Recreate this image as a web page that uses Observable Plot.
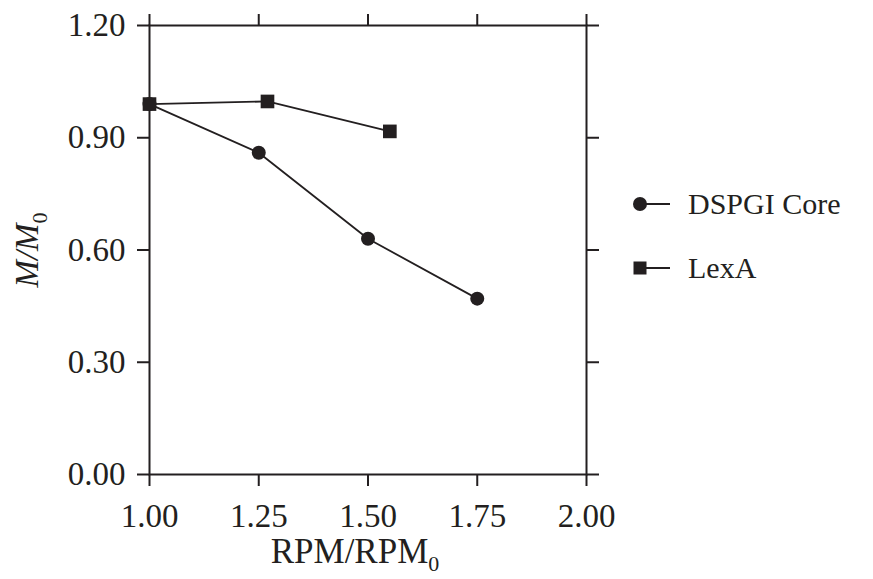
<!DOCTYPE html>
<html><head><meta charset="utf-8">
<script src="https://cdn.jsdelivr.net/npm/d3@7"></script>
<script src="https://cdn.jsdelivr.net/npm/@observablehq/plot@0.6"></script>
<style>
body{margin:0;background:#fff;}
#wrap{position:relative;width:873px;height:579px;font-family:"Liberation Serif","Times New Roman",serif;color:#231f20;}
.leg{position:absolute;left:632px;display:flex;align-items:center;font-size:30px;line-height:1;}
.leg svg{margin-right:16px;}
</style></head><body><div id="wrap"></div>
<script>
const seriesNames = ["DSPGI Core", "LexA"];
const dspgiX = [1.00, 1.25, 1.50, 1.75];
const dspgiY = [0.99, 0.86, 0.63, 0.47];
const lexaX = [1.00, 1.27, 1.55];
const lexaY = [0.99, 0.997, 0.917];
const xTicks = [1.00, 1.25, 1.50, 1.75, 2.00];
const yTicks = [0.00, 0.30, 0.60, 0.90, 1.20];

const ink = "#231f20";
const data = [
  ...dspgiX.map((x, i) => ({series: seriesNames[0], x, y: dspgiY[i]})),
  ...lexaX.map((x, i) => ({series: seriesNames[1], x, y: lexaY[i]}))
];
const fmt = d3.format(".2f");
const font = "'Liberation Serif','Times New Roman',serif";

const plot = Plot.plot({
  width: 873, height: 579,
  marginLeft: 149, marginRight: 287, marginTop: 25, marginBottom: 105,
  style: {fontFamily: font, color: ink, background: "#fff"},
  x: {domain: [1, 2], label: null},
  y: {domain: [0, 1.2], label: null},
  marks: [
    Plot.frame({stroke: ink, strokeWidth: 2}),
    Plot.axisX(xTicks, {anchor: "bottom", tickSize: 12, tickPadding: 17, tickFormat: fmt, strokeWidth: 2, fontSize: 33, fill: ink, stroke: ink, label: null}),
    Plot.axisX(xTicks, {anchor: "top", tickSize: 12, tickFormat: () => "", strokeWidth: 2, stroke: ink, label: null}),
    Plot.axisY(yTicks, {anchor: "left", tickSize: 12, tickPadding: 12, tickFormat: fmt, strokeWidth: 2, fontSize: 33, fill: ink, stroke: ink, label: null}),
    Plot.axisY(yTicks, {anchor: "right", tickSize: 12, tickFormat: () => "", strokeWidth: 2, stroke: ink, label: null}),
    Plot.line(data, {x: "x", y: "y", z: "series", stroke: ink, strokeWidth: 1.8}),
    Plot.dot(data.filter(d => d.series === seriesNames[0]), {x: "x", y: "y", r: 7, fill: ink, symbol: "circle"}),
    Plot.dot(data.filter(d => d.series === seriesNames[1]), {x: "x", y: "y", r: 7.7, fill: ink, symbol: "square"})
  ]
});

const wrap = document.getElementById("wrap");
wrap.appendChild(plot);

const svg = d3.select(plot);
// x axis label
const xl = svg.append("text").attr("x", 355).attr("y", 563).attr("text-anchor", "middle")
  .attr("font-family", font).attr("font-size", 35).attr("fill", ink);
xl.append("tspan").text("RPM/RPM");
xl.append("tspan").attr("font-size", 22).attr("dy", 8).text("0");
// y axis label
const yl = svg.append("text").attr("transform", "translate(38,250) rotate(-90)").attr("text-anchor", "middle")
  .attr("font-family", font).attr("font-size", 33).attr("fill", ink);
yl.append("tspan").attr("font-style", "italic").text("M/M");
yl.append("tspan").attr("font-size", 22).attr("dy", 9).text("0");

// legend
const items = [
  {name: seriesNames[0], top: 188, sym: `<circle cx="8" cy="16" r="7" fill="${ink}"/>`},
  {name: seriesNames[1], top: 252, sym: `<rect x="1.5" y="9.5" width="13" height="13" fill="${ink}"/>`}
];
items.forEach(it => {
  const div = document.createElement("div");
  div.className = "leg";
  div.style.top = it.top + "px";
  div.innerHTML = `<svg width="40" height="32">${it.sym}<line x1="8" y1="16" x2="38" y2="16" stroke="${ink}" stroke-width="2"/></svg><span>${it.name}</span>`;
  wrap.appendChild(div);
});
</script>
</body></html>
